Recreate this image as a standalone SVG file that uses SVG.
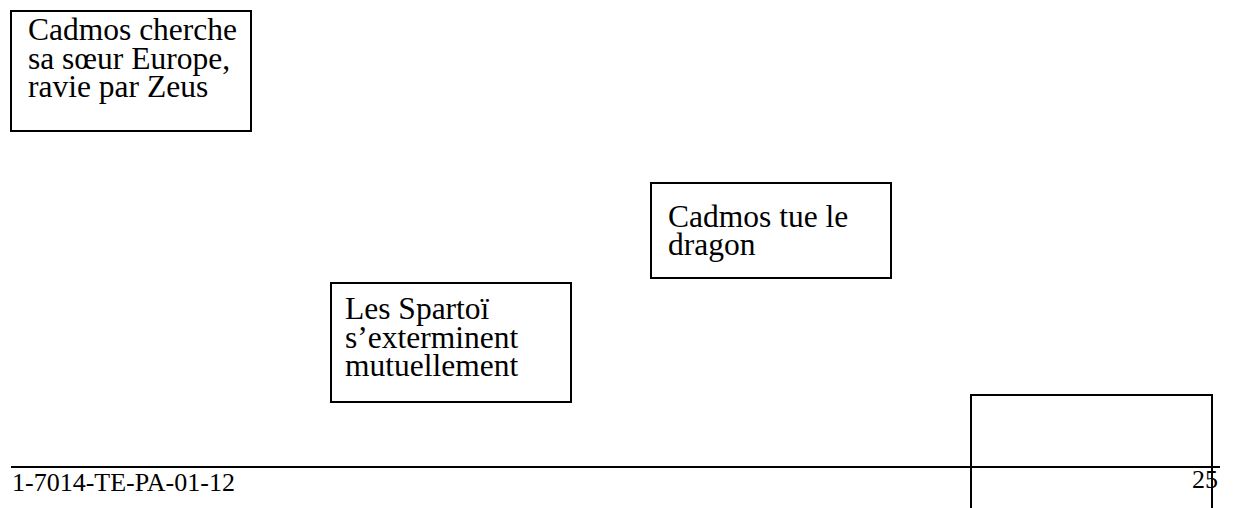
<svg xmlns="http://www.w3.org/2000/svg" width="1233" height="508" viewBox="0 0 1233 508">
<style>
.box{fill:#fff;stroke:#000;stroke-width:2}
.t{font-family:"Liberation Serif","Times New Roman",serif;font-size:31.5px;fill:#000}
.f{font-family:"Liberation Serif","Times New Roman",serif;font-size:26px;fill:#000}
</style>
<rect width="1233" height="508" fill="#fff"/>
<g id="node-cadmos-cherche">
<rect class="box" x="11" y="11" width="240" height="120"/>
<text class="t" x="28" y="40">Cadmos cherche</text>
<text class="t" x="28" y="68.5">sa sœur Europe,</text>
<text class="t" x="28" y="97">ravie par Zeus</text>
</g>
<g id="node-dragon">
<rect class="box" x="651" y="183" width="240" height="95"/>
<text class="t" x="668" y="227">Cadmos tue le</text>
<text class="t" x="668" y="255">dragon</text>
</g>
<g id="node-spartoi">
<rect class="box" x="331" y="283" width="240" height="119"/>
<text class="t" x="345" y="319">Les Spartoï</text>
<text class="t" x="345" y="347.5">s’exterminent</text>
<text class="t" x="345" y="376">mutuellement</text>
</g>
<g id="node-empty">
<rect class="box" x="971" y="395" width="241" height="150"/>
</g>
<g id="connectors">
<line x1="11" y1="467" x2="1220" y2="467" stroke="#000" stroke-width="2"/>
</g>
<g id="footer">
<text class="f" x="12" y="491">1-7014-TE-PA-01-12</text>
<text class="f" x="1218" y="488" text-anchor="end" font-size="25">25</text>
</g>
</svg>
